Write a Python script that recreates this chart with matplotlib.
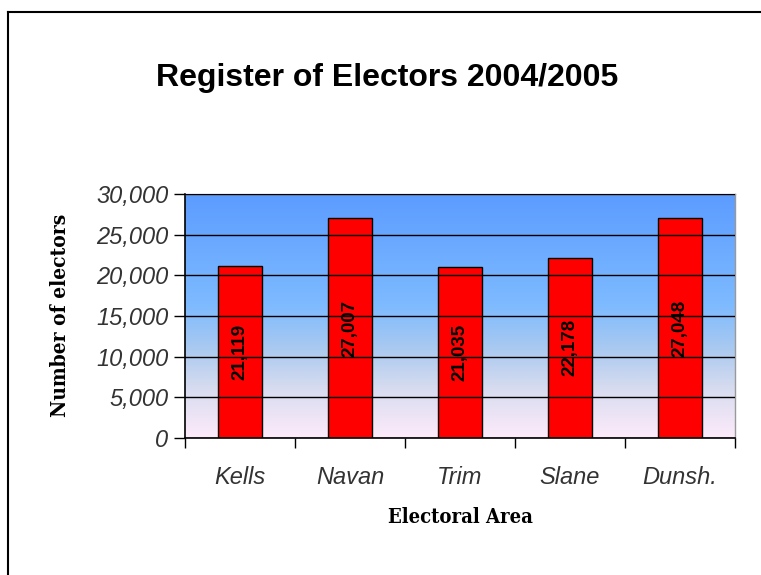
import matplotlib
matplotlib.use("Agg")
import matplotlib.pyplot as plt
import numpy as np
from matplotlib.colors import LinearSegmentedColormap
from matplotlib.ticker import FuncFormatter, MultipleLocator

areas = ["Kells", "Navan", "Trim", "Slane", "Dunsh."]
electors = [21119, 27007, 21035, 22178, 27048]
title = "Register of Electors 2004/2005"

fig = plt.figure(figsize=(7.61, 5.75), dpi=100)
# outer frame (left and top edges visible)
fig.add_artist(plt.Line2D([8/761, 8/761], [0, 1-12/575], transform=fig.transFigure, color="black", lw=1.5))
fig.add_artist(plt.Line2D([8/761, 1], [1-12/575, 1-12/575], transform=fig.transFigure, color="black", lw=1.5))

ax = fig.add_axes([185/761, 1-438/575, 550/761, 244/575])
x = np.arange(len(areas))
ax.set_xlim(-0.5, len(areas)-0.5)
ax.set_ylim(0, 30000)

# gradient background
cmap = LinearSegmentedColormap.from_list("bg", [
    (0.0, "#FDEBFA"), (0.2, "#D8DCF0"), (0.35, "#AECBEF"),
    (0.55, "#7DBAFF"), (1.0, "#5C9CFF")])
grad = np.linspace(0, 1, 256).reshape(-1, 1)
ax.imshow(grad, cmap=cmap, aspect="auto", origin="lower",
          extent=[-0.5, len(areas)-0.5, 0, 30000], zorder=0)

ax.yaxis.set_major_locator(MultipleLocator(5000))
ax.grid(axis="y", color="black", lw=1.0, zorder=1)
ax.set_axisbelow(False)

bars = ax.bar(x, electors, width=0.4, color="#FF0000", edgecolor="black", lw=1.0, zorder=2)
for xi, v in zip(x, electors):
    ax.text(xi, v/2, f"{v:,}", rotation=90, ha="center", va="center",
            fontsize=13.5, fontweight="bold", family="Liberation Sans", zorder=3)

ax.yaxis.set_major_formatter(FuncFormatter(lambda v, p: f"{int(v):,}"))
ax.tick_params(axis="y", direction="out", length=8, width=1, pad=4, labelsize=17, colors="black")
ax.set_xticks(np.arange(-0.5, len(areas)), minor=False)
ax.set_xticklabels([])
ax.set_xticks(x, minor=True)
ax.set_xticklabels(areas, minor=True)
ax.tick_params(axis="x", which="major", direction="out", length=7, width=1)
ax.tick_params(axis="x", which="minor", length=0, pad=20, labelsize=17)
for lab in ax.get_yticklabels() + ax.get_xticklabels(minor=True):
    lab.set_fontstyle("italic")
    lab.set_family("Liberation Sans")
    lab.set_color("#333333")

for s in ["top", "right"]:
    ax.spines[s].set_color("#999999")
    ax.spines[s].set_linewidth(1)
for s in ["left", "bottom"]:
    ax.spines[s].set_color("black")
    ax.spines[s].set_linewidth(1.2)
ax.spines["bottom"].set_zorder(4)

fig.text(387/761, 1-78/575, title, ha="center", va="center", fontsize=23,
         fontweight="bold", family="Liberation Sans")
fig.text(60/761, 1-315/575, "Number of electors", rotation=90, ha="center", va="center",
         fontsize=15, fontweight="bold", family="DejaVu Serif", fontstretch="condensed")
fig.text(460/761, 1-517/575, "Electoral Area", ha="center", va="center",
         fontsize=14.5, fontweight="bold", family="DejaVu Serif", fontstretch="condensed")

fig.savefig("out.png", dpi=100)
